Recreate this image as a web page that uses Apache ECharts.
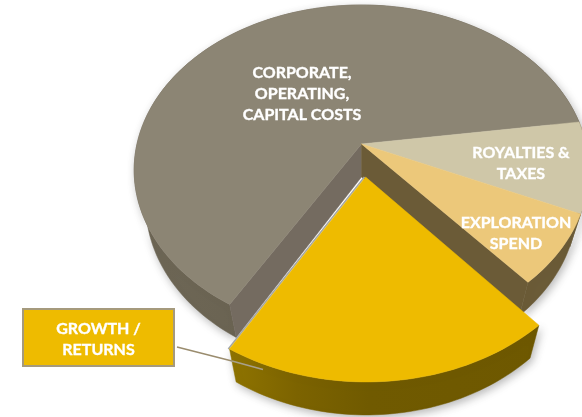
<!DOCTYPE html>
<html><head><meta charset="utf-8">
<style>html,body{margin:0;padding:0;background:#fff}#c{width:582px;height:417px}</style>
<script src="https://cdn.jsdelivr.net/npm/echarts@6/dist/echarts.min.js"></script>
</head><body><div id="c"></div>
<script>
// DATA (share of spend, %), clockwise from the upper right
const categories = ['CORPORATE,\nOPERATING,\nCAPITAL COSTS', 'ROYALTIES &\nTAXES', 'EXPLORATION\nSPEND', 'GROWTH /\nRETURNS'];
const values = [64.3, 8.9, 7.0, 19.8];
const exploded = [0, 0, 0, 0.2];

// STYLE
const topColors = ['#8C8574', '#CFC7A8', '#ECC87A', '#EEBB00'];
const wallColors = [
  [[0, '#6E6756'], [1, '#5F5846']],
  [[0, '#6B5B37'], [1, '#6B5B37']],
  [[0, '#6B5B37'], [1, '#6B5B37']],
  [[0, '#8F7400'], [0.22, '#7C6300'], [0.45, '#705A00'], [1, '#6E5800']]
];
const labelAnchors = [[302, 94], [521, 163], [516, 233]];
const labelFont = 'bold 16px Lato';

// 3D pie projection
const AX = 361.5, AY = 144, SX = 224.5, SY = 160.9, P = 0.1576, DEPTH = 33, SHRINK = 0.95;
const startDeg = 120.5;   // gray slice starts here, going clockwise on screen
function project(u, v, lower) {
  const f = 1 / (1 - P * v);
  let x = AX + SX * u * f, y = AY + SY * v * f;
  if (lower) { x = AX + (x - AX) * SHRINK; y += DEPTH; }
  return [x, y];
}
const total = values.reduce((a, b) => a + b, 0);
const slices = [];
let acc = startDeg;
values.forEach(function (v) {
  const span = v / total * 360;
  slices.push([acc, acc + span]);
  acc += span;
});
function arcPts(a0, a1, ox, oy, lower) {
  const pts = [], n = Math.max(8, Math.ceil(Math.abs(a1 - a0) / 1.5));
  for (let i = 0; i <= n; i++) {
    const t = (a0 + (a1 - a0) * i / n) * Math.PI / 180;
    pts.push(project(ox + Math.cos(t), oy + Math.sin(t), lower));
  }
  return pts;
}
function textStyle(text) {
  return { text: text, fill: '#fff', stroke: '#fff', lineWidth: 0.35, font: labelFont, lineHeight: 21,
    align: 'center', verticalAlign: 'middle' };
}
function renderItem(params, api) {
  const i = api.value(1);
  const [a0, a1] = slices[i];
  const mid = (a0 + a1) / 2 * Math.PI / 180;
  const d = exploded[i], ox = d * Math.cos(mid), oy = d * Math.sin(mid);
  const children = [];
  const top = arcPts(a0, a1, ox, oy, false);
  const bot = arcPts(a0, a1, ox, oy, true);
  const aTop = project(ox, oy, false), aBot = project(ox, oy, true);
  const poly = function (points, fill, extra) {
    return { type: 'polygon', shape: { points: points },
      style: Object.assign({ fill: fill, stroke: fill, lineWidth: 0.5 }, extra || {}) };
  };
  const grad = { type: 'linear', x: 0, y: 0, x2: 1, y2: 0,
    colorStops: wallColors[i].map(function (s) { return { offset: s[0], color: s[1] }; }) };
  // outer wall with a soft shadow
  children.push(poly(top.concat(bot.slice().reverse()), grad,
    { shadowBlur: 8, shadowColor: 'rgba(0,0,0,0.28)', shadowOffsetX: 2, shadowOffsetY: 3 }));
  // cut faces left by the exploded slice
  if (i === 0) children.push(poly([aTop, top[0], bot[0], aBot], '#746B60'));
  if (i === 2) children.push(poly([aTop, top[top.length - 1], bot[bot.length - 1], aBot], '#6B5B37'));
  // top face
  if (i === 3) {
    children.push({ type: 'line',
      shape: { x1: aTop[0] - 1.2, y1: aTop[1], x2: top[top.length - 1][0] - 1.2, y2: top[top.length - 1][1] },
      style: { stroke: '#A4A7A8', lineWidth: 1.6 } });
  }
  children.push(poly([aTop].concat(top), topColors[i]));
  if (labelAnchors[i]) {
    children.push({ type: 'text', x: labelAnchors[i][0], y: labelAnchors[i][1], z2: 20,
      style: textStyle(categories[i]) });
  }
  return { type: 'group', children: children };
}
const chart = echarts.init(document.getElementById('c'), null, { renderer: 'canvas' });
chart.setOption({
  animation: false,
  backgroundColor: '#fff',
  series: [{
    type: 'custom', coordinateSystem: 'none', silent: true, clip: false,
    renderItem: renderItem,
    data: values.map(function (v, i) { return [v, i]; })
  }],
  graphic: [
    { type: 'line', z: 10, shape: { x1: 177, y1: 347, x2: 232, y2: 361 }, style: { stroke: '#9A8C6E', lineWidth: 1.5 } },
    { type: 'line', z: 10, shape: { x1: 232, y1: 361, x2: 263, y2: 369.5 }, style: { stroke: '#A8A08C', lineWidth: 1.5 } },
    { type: 'rect', z: 10, shape: { x: 23, y: 309, width: 151, height: 57 },
      style: { fill: '#EEBB00', stroke: '#A59A7D', lineWidth: 2 } },
    { type: 'text', z: 11, x: 98.5, y: 339, style: textStyle(categories[3]) }
  ]
});
</script></body></html>
